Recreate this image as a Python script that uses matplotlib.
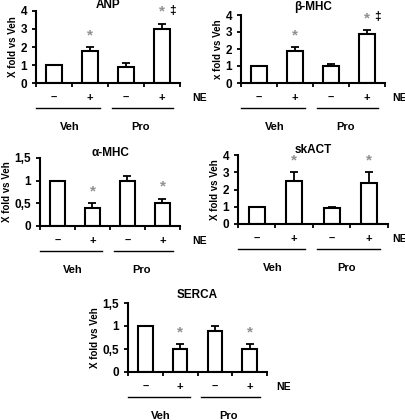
import numpy as np
import matplotlib
matplotlib.use('Agg')
import matplotlib.pyplot as plt
from matplotlib.transforms import offset_copy

plt.rcParams['font.family'] = ['Liberation Sans', 'DejaVu Sans']
plt.rcParams['font.weight'] = 'bold'

# data
ne_labels = ['–', '+', '–', '+']
groups = ['Veh', 'Pro']

anp = [1.0, 1.8, 0.9, 3.0]
anp_err = [0.0, 0.2, 0.2, 0.3]
bmhc = [1.0, 1.9, 1.0, 2.9]
bmhc_err = [0.0, 0.2, 0.1, 0.2]
amhc = [1.0, 0.4, 1.0, 0.5]
amhc_err = [0.0, 0.1, 0.1, 0.1]
skact = [1.0, 2.5, 0.9, 2.4]
skact_err = [0.0, 0.5, 0.1, 0.6]
serca = [1.0, 0.5, 0.9, 0.5]
serca_err = [0.0, 0.1, 0.1, 0.1]

W, H = 406, 420
fig = plt.figure(figsize=(W / 100, H / 100), dpi=100)


def panel(box, title, vals, errs, yticks, yticklabels, stars, dagger,
          ylabel='X fold vs Veh', title_gap=8, ne_dx=12):
    l, r, t, b = box
    ax = fig.add_axes([l / W, 1 - b / H, (r - l) / W, (b - t) / H])
    x = np.arange(4)
    ax.bar(x, vals, width=0.42, color='white', edgecolor='black', linewidth=1.5, zorder=2)
    ax.errorbar(x, vals, yerr=[np.zeros(4), errs], fmt='none', ecolor='black',
                elinewidth=1.3, capsize=3, capthick=1.3, zorder=1)
    ax.set_xlim(-0.5, 3.5)
    ax.set_ylim(0, yticks[-1])
    ax.set_yticks(yticks)
    ax.set_yticklabels(yticklabels, fontsize=8.5, fontweight='bold')
    ax.set_xticks([-0.5, 0.5, 1.5, 2.5, 3.5])
    ax.set_xticklabels([])
    ax.tick_params(axis='both', direction='out', length=3, width=1.3)
    for s in ['top', 'right']:
        ax.spines[s].set_visible(False)
    for s in ['left', 'bottom']:
        ax.spines[s].set_linewidth(1.5)
    ax.annotate(title, (0.5, 1), xycoords='axes fraction', xytext=(0, title_gap),
                textcoords='offset pixels', ha='center', va='center',
                fontsize=8.5, fontweight='bold')
    ax.set_ylabel(ylabel, fontsize=7, fontweight='bold', labelpad=2)

    xt = ax.get_xaxis_transform()
    for xi, lab in zip(x, ne_labels):
        ax.text(xi, 0, lab, transform=offset_copy(xt, fig, y=-15, units='dots'),
                ha='center', va='center', fontsize=8, fontweight='bold')
    ax.annotate('NE', (1, 0), xycoords='axes fraction', xytext=(ne_dx, -15),
                textcoords='offset pixels', ha='left', va='center',
                fontsize=7.5, fontweight='bold')
    line_tr = offset_copy(xt, fig, y=-25, units='dots')
    ax.plot([-0.5, 1.28], [0, 0], color='black', lw=1.0, transform=line_tr, clip_on=False)
    ax.plot([1.61, 3.3], [0, 0], color='black', lw=1.0, transform=line_tr, clip_on=False)
    txt_tr = offset_copy(xt, fig, y=-44, units='dots')
    ax.text(0.44, 0, groups[0], transform=txt_tr, ha='center', va='center', fontsize=8, fontweight='bold')
    ax.text(2.39, 0, groups[1], transform=txt_tr, ha='center', va='center', fontsize=8, fontweight='bold')

    for i in stars:
        top = vals[i] + errs[i]
        ax.annotate('*', (i, top), xytext=(0, 5), textcoords='offset pixels',
                    ha='center', va='bottom', fontsize=11, color='#909090')
    for i in dagger:
        top = vals[i] + errs[i]
        ax.annotate('‡', (i, top), xytext=(10, 7), textcoords='offset pixels',
                    ha='center', va='bottom', fontsize=8.5, color='black', fontweight='bold')
    return ax


yt4 = [0, 1, 2, 3, 4]
yl4 = ['0', '1', '2', '3', '4']
yt15 = [0, 0.5, 1, 1.5]
yl15 = ['0', '0,5', '1', '1,5']

panel((36, 180, 11, 83), 'ANP', anp, anp_err, yt4, yl4, [1, 3], [3], title_gap=6)
panel((241, 385, 15, 83), 'β-MHC', bmhc, bmhc_err, yt4, yl4, [1, 3], [3],
      ylabel='x fold vs Veh', title_gap=8, ne_dx=7)
panel((40, 180, 158, 226), 'α-MHC', amhc, amhc_err, yt15, yl15, [1, 3], [], title_gap=5)
panel((238, 388, 155, 224), 'skACT', skact, skact_err, yt4, yl4, [1, 3], [],
      title_gap=5, ne_dx=4)
panel((128, 267, 303, 372), 'SERCA', serca, serca_err, yt15, yl15, [1, 3], [],
      title_gap=8, ne_dx=9)

fig.savefig('out.png', dpi=100)
